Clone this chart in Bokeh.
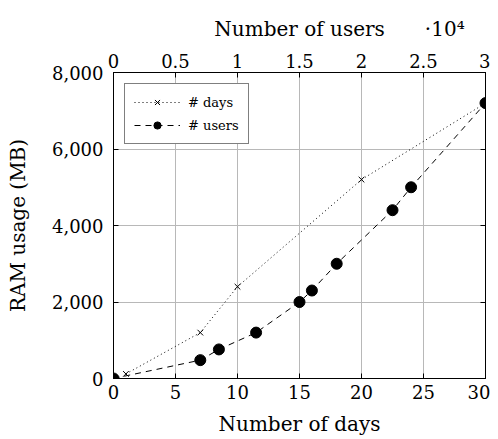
from bokeh.plotting import figure
from bokeh.models import (Range1d, LinearAxis, Legend, LegendItem, Grid,
                          FixedTicker, NumeralTickFormatter, CustomJSTickFormatter)
from bokeh.embed import file_html
from bokeh.resources import INLINE

# ---- data ----
days = [1, 7, 10, 20, 30]
ram_days = [120, 1200, 2400, 5200, 7200]
users = [0, 7000, 8500, 11500, 15000, 16000, 18000, 22500, 24000, 30000]
ram_users = [0, 480, 760, 1200, 2000, 2300, 3000, 4400, 5000, 7200]
day_ticks = [0, 5, 10, 15, 20, 25, 30]
ram_ticks = [0, 2000, 4000, 6000, 8000]
user_ticks = [0, 5000, 10000, 15000, 20000, 25000, 30000]
user_tick_labels = ["0", "0.5", "1", "1.5", "2", "2.5", "3"]
users_title = "Number of users"
scale_note = "·10⁴"

FONT = "DejaVu Serif"
FS = "18px"
LFS = "20px"
EM = "\u2003"

p = figure(width=490, height=439, output_backend="svg", toolbar_location=None,
           x_range=Range1d(0, 30), y_range=Range1d(0, 8000),
           min_border_left=113, min_border_right=5, min_border_top=72,
           min_border_bottom=61, x_axis_type=None, y_axis_type=None)
p.extra_x_ranges = {"users": Range1d(0, 30000)}
p.outline_line_color = "black"
p.outline_line_width = 1
p.background_fill_color = "white"
p.border_fill_color = "white"

def style(ax):
    ax.axis_line_color = "black"
    ax.major_tick_line_color = "black"
    ax.major_tick_in = 5
    ax.major_tick_out = 0
    ax.minor_tick_line_color = None
    ax.major_label_text_font = FONT
    ax.major_label_text_font_size = FS
    ax.major_label_text_color = "black"
    ax.axis_label_text_font = FONT
    ax.axis_label_text_font_size = LFS
    ax.axis_label_text_font_style = "normal"
    ax.axis_label_text_color = "black"

xb = LinearAxis(ticker=FixedTicker(ticks=day_ticks), axis_label="Number of days")
style(xb)
xb.major_label_standoff = 6
xb.axis_label_standoff = 10
p.add_layout(xb, "below")

yl = LinearAxis(ticker=FixedTicker(ticks=ram_ticks), axis_label="RAM usage (MB)",
                formatter=NumeralTickFormatter(format="0,0"))
style(yl)
yl.major_label_standoff = 10
yl.axis_label_standoff = 19
p.add_layout(yl, "left")

# top axis label: centred title plus the right-hand scale note (·10⁴)
top_label = EM * 4 + users_title + EM * 2 + scale_note
xt = LinearAxis(x_range_name="users", ticker=FixedTicker(ticks=user_ticks),
                axis_label=top_label,
                major_label_overrides={t: l for t, l in zip(user_ticks, user_tick_labels)})
style(xt)
xt.major_label_standoff = 5
xt.axis_label_standoff = 10
p.add_layout(xt, "above")

yr = LinearAxis(ticker=FixedTicker(ticks=ram_ticks),
                formatter=CustomJSTickFormatter(code="return ''"))
style(yr)
yr.major_label_standoff = 0
p.add_layout(yr, "right")

p.add_layout(Grid(dimension=0, ticker=xb.ticker, grid_line_color="#b8b8b8", grid_line_width=1))
p.add_layout(Grid(dimension=1, ticker=yl.ticker, grid_line_color="#b8b8b8", grid_line_width=1))

l1 = p.line(days, ram_days, line_color="black", line_width=1, line_dash="1 3")
s1 = p.scatter(days, ram_days, marker="x", size=8, line_color="black", line_width=1)
l2 = p.line(users, ram_users, x_range_name="users", line_color="black",
            line_width=1, line_dash="6 5")
s2 = p.scatter(users, ram_users, x_range_name="users", marker="circle", size=11,
               fill_color="black", line_color="black")

legend = Legend(items=[LegendItem(label="# days", renderers=[l1, s1]),
                       LegendItem(label="# users", renderers=[l2, s2])],
                location="top_left", margin=11)
legend.label_text_font = FONT
legend.label_text_font_size = "13px"
legend.label_text_color = "black"
legend.border_line_color = "black"
legend.border_line_width = 1
legend.background_fill_alpha = 1
legend.glyph_width = 46
legend.glyph_height = 18
legend.label_standoff = 8
legend.spacing = 5
legend.padding = 9
p.add_layout(legend)

open("out.html", "w").write(file_html(p, INLINE))
